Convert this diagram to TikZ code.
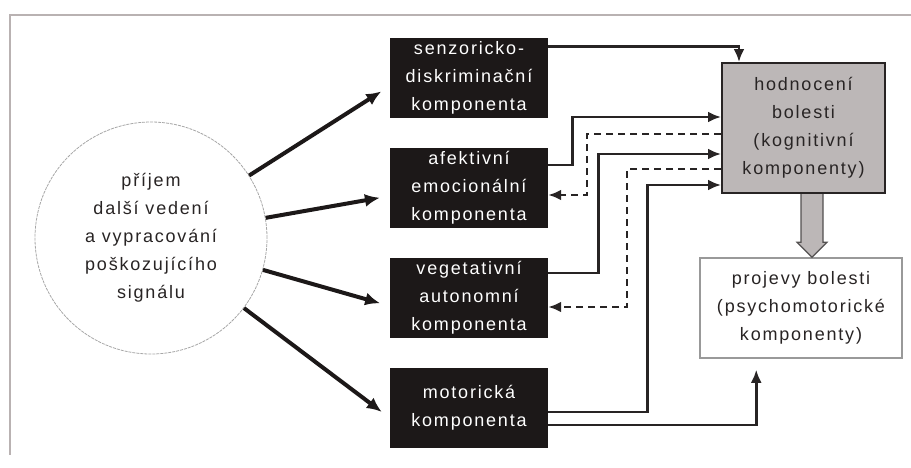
\documentclass[tikz,border=0pt]{standalone}
\usepackage{fontspec}
\setmainfont[LetterSpace=10]{Liberation Sans}
\usetikzlibrary{calc}
\usetikzlibrary{arrows.meta}

\definecolor{boxblack}{RGB}{28,24,24}
\definecolor{ink}{RGB}{40,36,36}
\definecolor{boxgrey}{RGB}{188,183,183}
\definecolor{framegrey}{RGB}{185,178,178}

\begin{document}
\begin{tikzpicture}[x=1pt,y=-1pt,
    comp/.style={fill=boxblack, text=white, minimum width=158pt, minimum height=80pt,
        inner sep=0pt, align=center, font=\fontsize{18}{28}\selectfont},
    ray/.style={draw=boxblack, line width=4pt, shorten >=10pt,
        -{Latex[length=15pt,width=13pt]}},
    conn/.style={draw=ink, line width=2.8pt, -{Latex[length=13pt,width=11pt]}},
    back/.style={conn, dash pattern=on 7pt off 5pt}]
    \useasboundingbox (0,0) rectangle (911,467);

    % Frame
    \draw[framegrey, line width=1.5pt] (911,15) -| (10,455);

    % Signal
    \node[circle, draw=gray!70, line width=0.8pt, dash pattern=on 3pt off 1pt,
        minimum size=232pt, inner sep=0pt, align=center, text=ink,
        font=\fontsize{18}{28}\selectfont] (signal) at (151,238)
        {příjem\\další vedení\\a vypracování\\poškozujícího\\signálu};

    % Components
    \node[comp] (senz) at (469,78) {senzoricko-\\diskriminační\\komponenta};
    \node[comp] (afek) at (469,188) {afektivní\\emocionální\\komponenta};
    \node[comp] (vege) at (469,298) {vegetativní\\autonomní\\komponenta};
    \node[comp] (moto) at (469,408) {motorická\\komponenta};

    % Evaluation and expression
    \node[fill=boxgrey, draw=ink, line width=2pt, minimum width=163pt, minimum height=130pt,
        align=center, text=ink, font=\fontsize{18}{28}\selectfont] (hodn) at (803.5,128)
        {hodnocení\\bolesti\\(kognitivní\\komponenty)};
    \node[fill=white, draw=gray!80, line width=1.5pt, minimum width=202pt, minimum height=100pt,
        align=center, text=ink, font=\fontsize{18}{28}\selectfont] (proj) at (801,308)
        {projevy bolesti\\(psychomotorické\\komponenty)};

    % Rays
    \draw[ray] (signal) -- ($(senz.west)+(0,8)$);
    \draw[ray] (signal) -- ($(afek.west)+(0,8)$);
    \draw[ray] (signal) -- ($(vege.west)+(0,8)$);
    \draw[ray] (signal) -- ($(moto.west)+(0,10)$);

    % Feed to evaluation
    \draw[conn] ($(senz.north east)+(0,9)$) -| ($(hodn.north west)+(18,0)$);
    \draw[conn] ($(afek.east)+(0,-23)$) -- ++(24,0) |- ($(hodn.north west)+(0,55)$);
    \draw[conn] ($(vege.east)+(0,-25)$) -- ++(50,0) |- ($(hodn.north west)+(0,92)$);
    \draw[conn] ($(moto.east)+(0,4)$) -- ++(99,0) |- ($(hodn.north west)+(0,123)$);
    \draw[conn, shorten >=11pt] ($(moto.east)+(0,17)$) -| ($(proj.south west)+(57,0)$);

    % Feedback
    \draw[back] ($(hodn.north west)+(0,72)$) -- ++(-134,0) |- ($(afek.east)+(0,7)$);
    \draw[back] ($(hodn.north west)+(0,107)$) -- ++(-94,0) |- ($(vege.east)+(0,9)$);

    % Big arrow
    \coordinate (tip) at ($(proj.north)+(11,0)$);
    \filldraw[fill=boxgrey, draw=ink!80, line width=1.2pt, line join=miter]
        ($(tip |- hodn.south)+(-11,0)$) -- ($(tip)+(-11,-15)$) -- ($(tip)+(-15,-15)$)
        -- (tip) -- ($(tip)+(15,-15)$) -- ($(tip)+(11,-15)$) -- ($(tip |- hodn.south)+(11,0)$);
\end{tikzpicture}
\end{document}
